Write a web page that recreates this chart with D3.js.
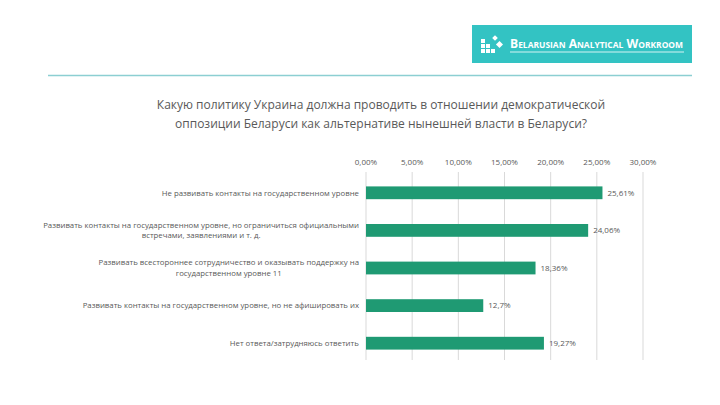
<!DOCTYPE html>
<html lang="ru">
<head>
<meta charset="UTF-8">
<title>Chart</title>
<script src="https://d3js.org/d3.v7.min.js"></script>
<style>
    body { margin: 0; padding: 0; background: #fff; }
    svg { display: block; font-family: "Open Sans", "Liberation Sans", sans-serif; }
    .grid line { stroke: #d9d9d9; stroke-width: 1px; }
    .tick-label { font-size: 8px; fill: #595959; }
    .cat { font-size: 7.8px; fill: #595959; }
    .val { font-size: 8px; fill: #595959; }
    .title { font-size: 12px; fill: #595959; }
</style>
</head>
<body>
<div id="chart"></div>
<script>
    // data
    const categories = [
        ["Не развивать контакты на государственном уровне"],
        ["Развивать контакты на государственном уровне, но ограничиться официальными", "встречами, заявлениями и т. д."],
        ["Развивать всестороннее сотрудничество и оказывать поддержку на", "государственном уровне 11"],
        ["Развивать контакты на государственном уровне, но не афишировать их"],
        ["Нет ответа/затрудняюсь ответить"]
    ];
    const values = [25.61, 24.06, 18.36, 12.7, 19.27];
    const valueLabels = ["25,61%", "24,06%", "18,36%", "12,7%", "19,27%"];
    const tickValues = [0, 5, 10, 15, 20, 25, 30];
    const tickLabels = ["0,00%", "5,00%", "10,00%", "15,00%", "20,00%", "25,00%", "30,00%"];

    const W = 720, H = 405;
    const svg = d3.select("#chart").append("svg")
        .attr("width", W).attr("height", H);

    // header logo
    svg.append("rect")
        .attr("x", 472).attr("y", 25).attr("width", 220).attr("height", 38)
        .attr("fill", "#33c3c3");
    const icon = svg.append("g").attr("fill", "#fff");
    [[481, 44], [486, 44], [481, 49], [486, 49], [491, 49], [481, 39]].forEach(p => {
        icon.append("rect").attr("x", p[0]).attr("y", p[1]).attr("width", 4).attr("height", 4);
    });
    icon.append("rect").attr("x", 493).attr("y", 36).attr("width", 4).attr("height", 4)
        .attr("transform", "rotate(45 495 38)");
    icon.append("rect").attr("x", 497).attr("y", 42).attr("width", 5).attr("height", 5)
        .attr("transform", "rotate(45 499.5 44.5)");
    svg.append("text")
        .attr("x", 510).attr("y", 48)
        .attr("fill", "#fff")
        .attr("textLength", 173)
        .attr("lengthAdjust", "spacingAndGlyphs")
        .style("font-size", "11.5px")
        .style("font-weight", "bold")
        .style("font-variant", "small-caps")
        .text("Belarusian Analytical Workroom");
    svg.append("line")
        .attr("x1", 510).attr("x2", 684).attr("y1", 52).attr("y2", 52)
        .attr("stroke", "#fff").attr("stroke-width", 0.8);

    svg.append("line")
        .attr("x1", 48).attr("x2", 692).attr("y1", 75.5).attr("y2", 75.5)
        .attr("stroke", "#8ccfd2").attr("stroke-width", 1.5);

    // title
    const title = svg.append("text").attr("class", "title").attr("text-anchor", "middle");
    title.append("tspan").attr("x", 381).attr("y", 109)
        .text("Какую политику Украина должна проводить в отношении демократической");
    title.append("tspan").attr("x", 381).attr("y", 128)
        .text("оппозиции Беларуси как альтернативе нынешней власти в Беларуси?");

    // scales
    const x = d3.scaleLinear().domain([0, 30]).range([366, 643]);
    const y = d3.scaleBand().domain(d3.range(values.length)).range([174, 362]).paddingInner(0.66).paddingOuter(0.33);

    // gridlines
    const grid = svg.append("g").attr("class", "grid");
    grid.selectAll("line").data(tickValues).enter().append("line")
        .attr("x1", d => x(d)).attr("x2", d => x(d))
        .attr("y1", 172).attr("y2", 360);

    // top axis labels
    svg.selectAll(".tick-label").data(tickValues).enter().append("text")
        .attr("class", "tick-label")
        .attr("x", d => x(d)).attr("y", 165)
        .attr("text-anchor", "middle")
        .text((d, i) => tickLabels[i]);

    // bars
    svg.selectAll(".bar").data(values).enter().append("rect")
        .attr("class", "bar")
        .attr("x", x(0))
        .attr("y", (d, i) => y(i))
        .attr("width", d => x(d) - x(0))
        .attr("height", y.bandwidth())
        .attr("fill", "#1f9a73");

    // value labels
    svg.selectAll(".val").data(values).enter().append("text")
        .attr("class", "val")
        .attr("x", d => x(d) + 5)
        .attr("y", (d, i) => y(i) + y.bandwidth() / 2)
        .attr("dy", "0.35em")
        .text((d, i) => valueLabels[i]);

    // category labels (block right-aligned, lines centred)
    categories.forEach((lines, i) => {
        const cy = y(i) + y.bandwidth() / 2;
        const g = svg.append("g");
        const t = g.append("text").attr("class", "cat").attr("text-anchor", "middle");
        const lh = 10.5;
        lines.forEach((s, k) => {
            t.append("tspan").attr("x", 0)
                .attr("y", cy + (k - (lines.length - 1) / 2) * lh)
                .attr("dy", "0.35em")
                .text(s);
        });
        const bb = t.node().getBBox();
        g.attr("transform", `translate(${359 - bb.width / 2},0)`);
    });
</script>
</body>
</html>
